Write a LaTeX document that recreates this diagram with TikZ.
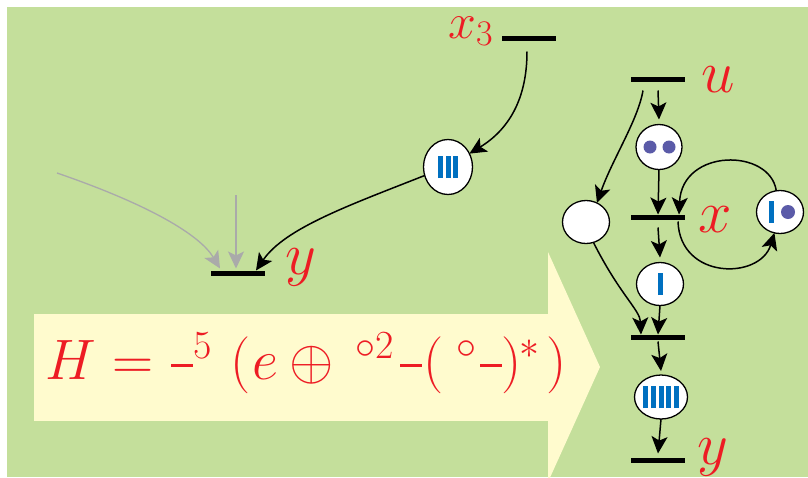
\documentclass[tikz,border=0pt]{standalone}
\usepackage{fix-cm}
\usetikzlibrary{arrows.meta,shapes.geometric}
\definecolor{greenbg}{RGB}{196,223,155}
\definecolor{yellowc}{RGB}{255,251,206}
\definecolor{redc}{RGB}{237,28,36}
\definecolor{bluec}{RGB}{0,112,192}
\definecolor{purplec}{RGB}{91,91,168}
\definecolor{grayc}{RGB}{170,170,170}
\newcommand\tbar{\textcolor{bluec}{\rule{5pt}{22pt}}}
\newcommand\tgap{\hspace{2.6pt}}
\newcommand\fdash{\mbox{\rule[12.5pt]{22pt}{3pt}}}
\newcommand\fp[2]{\makebox[#1][l]{#2}}
\begin{document}
\begin{tikzpicture}[x=1pt,y=-1pt,
  bar/.style={fill=black,minimum width=54pt,minimum height=5pt,inner sep=0pt,outer sep=0pt},
  place/.style={ellipse,draw=black,line width=1.3pt,fill=white,inner sep=0pt,outer sep=0pt},
  arr/.style={line width=1.5pt,-{Stealth[length=17pt,width=16pt,inset=4pt,scale=1]}},
  garr/.style={line width=1.3pt,draw=grayc,-{Stealth[length=17pt,width=16pt,inset=4pt]}},
  lab/.style={text=redc,font=\fontsize{60}{60}\selectfont,inner sep=0pt},
  dot/.style={fill=purplec}
]
\useasboundingbox (0,0) rectangle (808,477);
\fill[greenbg] (7,7) rectangle (808,477);
% big yellow arrow
\fill[yellowc] (34,314) rectangle (548.5,421);
\fill[yellowc] (548,252) -- (600,367) -- (548,482) -- cycle;
\node[anchor=base west,text=redc,inner sep=0pt,font=\fontsize{57}{60}\selectfont] (formula) at (45,379)
  {\fp{67pt}{$H$}\fp{59pt}{$=$}\fp{59pt}{$\fdash^{5}$}\fp{22pt}{$\Bigl($}\fp{37pt}{$e$}\fp{66pt}{$\oplus$}\fp{45pt}{${}^{\circ 2}$}\fp{23pt}{\fdash}\fp{33pt}{$($}\fp{24pt}{${}^{\circ}$}\fp{21pt}{\fdash}\fp{18pt}{$)$}\fp{27pt}{${}^{*}$}$\Bigr)$};

% left part
\node[bar] (x3b) at (529,38) {};
\node[lab,anchor=base east,font=\fontsize{50}{50}\selectfont] (x3l) at (494,38) {$x_{\mbox{\fontsize{36}{36}\selectfont 3}}$};
\node[place,minimum width=49pt,minimum height=55pt] (c3) at (448,167) {\tbar\tgap\tbar\tgap\tbar};
\node[bar] (yb) at (238,273) {};
\node[lab,anchor=base west] (yl) at (285,274) {$y$};
\coordinate (g1) at (57,173);
\coordinate (g2) at (236,195);

\draw[arr] ([xshift=-2pt,yshift=-11pt]x3b.south) .. controls (527,100) and (508,130) .. (c3.32);
\draw[arr] (c3.200) .. controls (350,205) and (285,228) .. ([xshift=18pt]yb.north);
\draw[garr] (g1) .. controls (150,205) and (200,235) .. ([xshift=-18pt,yshift=2pt]yb.north);
\draw[garr] (g2) -- ([xshift=-2pt,yshift=2pt]yb.north);

% right part
\node[bar] (ub) at (658,79) {};
\node[lab,anchor=base west] (ul) at (701,92) {$u$};
\node[place,minimum width=46pt,minimum height=45pt] (cd) at (659,147) {};
\fill[dot] ([xshift=-9pt]cd.center) circle (6.5pt);
\fill[dot] ([xshift=10pt]cd.center) circle (6.5pt);
\node[bar] (xb) at (658,217) {};
\node[lab,anchor=base west] (xl) at (698,232) {$x$};
\node[place,minimum width=47pt,minimum height=43pt] (ce) at (586,222) {};
\node[place,minimum width=47pt,minimum height=43pt] (cid) at (780,212) {};
\fill[bluec] ([xshift=-11pt,yshift=-11pt]cid.center) rectangle +(5pt,22pt);
\fill[dot] ([xshift=8pt]cid.center) circle (7pt);
\node[place,minimum width=47pt,minimum height=43pt] (ci) at (660,284) {\tbar};
\node[bar] (b3) at (658,337) {};
\node[place,minimum width=53pt,minimum height=44pt] (c5) at (661,397) {\tbar\tgap\tbar\tgap\tbar\tgap\tbar\tgap\tbar};
\node[bar] (yb2) at (658,460) {};
\node[lab,anchor=base west] (yl2) at (697,464) {$y$};

\draw[arr] ([yshift=-9pt]ub.south) -- ([yshift=5pt]cd.north);
\draw[arr] (cd.south) -- (xb.north);
\draw[arr] ([xshift=-15pt,yshift=-9pt]ub.south) .. controls (638,120) and (612,160) .. (ce.60);
\draw[arr] (cid.100) .. controls (770,148) and (682,148) .. ([xshift=21pt]xb.north);
\draw[arr] ([xshift=20pt,yshift=-2pt]xb.south) .. controls (680,280) and (760,280) .. (cid.255);
\draw[arr] ([yshift=-8pt]xb.south) -- ([yshift=5pt]ci.north);
\draw[arr] (ci.south) -- (b3.north);
\draw[arr] (ce.290) .. controls (620,295) and (640,310) .. ([xshift=-17pt]b3.north);
\draw[arr] ([yshift=-2pt]b3.south) -- ([yshift=4pt]c5.north);
\draw[arr] (c5.south) -- ([yshift=4pt]yb2.north);
\end{tikzpicture}
\end{document}
